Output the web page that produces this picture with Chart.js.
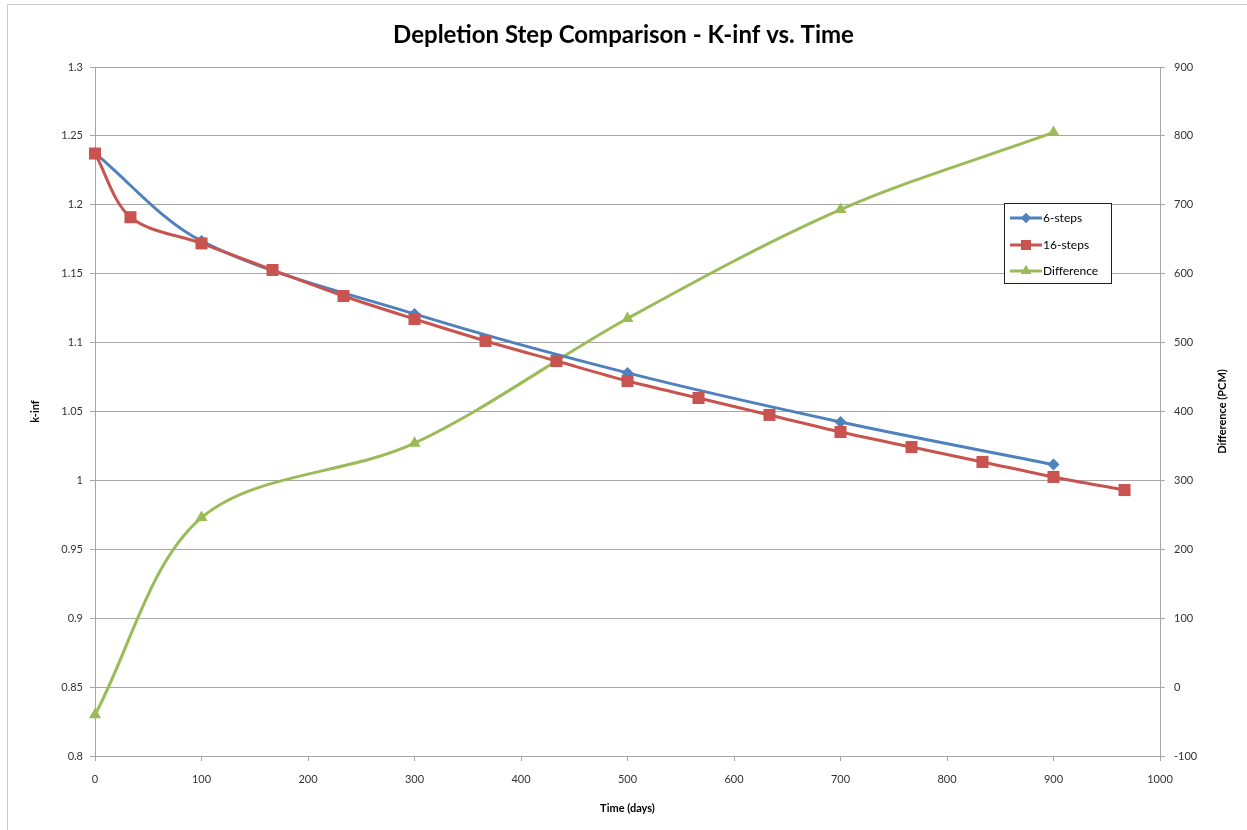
<!DOCTYPE html>
<html>
<head>
<meta charset="utf-8">
<script src="https://cdn.jsdelivr.net/npm/chart.js@4.4.0/dist/chart.umd.min.js"></script>
<style>
html,body{margin:0;padding:0;background:#fff;}
#wrap{width:1247px;height:830px;position:relative;}
</style>
</head>
<body>
<div id="wrap"><canvas id="c" width="1247" height="830"></canvas></div>
<script>
// ---- data ----
const chartTitle = 'Depletion Step Comparison - K-inf vs. Time';
const xTitle = 'Time (days)';
const yTitle = 'k-inf';
const y2Title = 'Difference (PCM)';

const days6 = [0, 100, 300, 500, 700, 900];
const kinf6 = [1.2375, 1.1737, 1.1208, 1.0780, 1.0424, 1.0115];

const days16 = [0, 33.3, 100, 166.7, 233.3, 300, 366.7, 433.3, 500, 566.7, 633.3, 700, 766.7, 833.3, 900, 966.7];
const kinf16 = [1.2372, 1.1910, 1.1720, 1.1527, 1.1338, 1.1171, 1.1012, 1.0866, 1.0721, 1.0598, 1.0475, 1.0351, 1.0242, 1.0134, 1.0025, 0.9930];

const daysDiff = [0, 100, 300, 500, 700, 900];
const diffPCM = [-40, 246, 354, 535, 693, 805];

const seriesLabels = ['6-steps', '16-steps', 'Difference'];
const xTicks = [0, 100, 200, 300, 400, 500, 600, 700, 800, 900, 1000];
const yTicks = [0.8, 0.85, 0.9, 0.95, 1, 1.05, 1.1, 1.15, 1.2, 1.25, 1.3];
const y2Ticks = [-100, 0, 100, 200, 300, 400, 500, 600, 700, 800, 900];

const toXY = (xs, ys) => xs.map((x, i) => ({x: x, y: ys[i]}));

const FONT = 'Lato, "Open Sans", "DejaVu Sans", sans-serif';
const BLUE = '#4F81BD', RED = '#C9534F', GREEN = '#9BBB59';
const GRID = '#A6A6A6';
const TXT = '#333333';

const decor = {
  id: 'decor',
  beforeDraw(chart) {
    const ctx = chart.ctx;
    ctx.save();
    ctx.fillStyle = '#fff';
    ctx.fillRect(0, 0, chart.width, chart.height);
    ctx.strokeStyle = '#C8C8C8';
    ctx.lineWidth = 1;
    ctx.beginPath();
    ctx.moveTo(7.5, 830); ctx.lineTo(7.5, 4.5); ctx.lineTo(1247, 4.5);
    ctx.stroke();
    ctx.restore();
  },
  afterDraw(chart) {
    const ctx = chart.ctx;
    const ca = chart.chartArea;
    ctx.save();
    // axis titles
    ctx.fillStyle = '#000';
    ctx.font = 'bold 11px ' + FONT;
    ctx.textAlign = 'center';
    ctx.textBaseline = 'middle';
    ctx.fillText(xTitle, (ca.left + ca.right) / 2, 808);
    ctx.save();
    ctx.translate(35, (ca.top + ca.bottom) / 2);
    ctx.rotate(-Math.PI / 2);
    ctx.fillText(yTitle, 0, 0);
    ctx.restore();
    ctx.save();
    ctx.translate(1222, (ca.top + ca.bottom) / 2);
    ctx.rotate(-Math.PI / 2);
    ctx.fillText(y2Title, 0, 0);
    ctx.restore();

    // legend
    const bx = 1004.5, by = 203.5, bw = 107, bh = 80;
    ctx.fillStyle = '#fff';
    ctx.fillRect(bx, by, bw, bh);
    ctx.strokeStyle = '#222';
    ctx.lineWidth = 1;
    ctx.strokeRect(bx, by, bw, bh);
    const rows = [218, 245, 271];
    chart.data.datasets.forEach((ds, i) => {
      const yy = rows[i];
      ctx.strokeStyle = ds.borderColor;
      ctx.lineWidth = 3;
      ctx.beginPath();
      ctx.moveTo(1010, yy); ctx.lineTo(1042, yy);
      ctx.stroke();
      ctx.fillStyle = ds.borderColor;
      Chart.helpers.drawPoint(ctx, {
        pointStyle: ds.pointStyle, radius: ds.legendRadius, borderWidth: 0, rotation: 0
      }, 1026, yy);
      ctx.fill();
      ctx.fillStyle = '#000';
      ctx.font = '12px ' + FONT;
      ctx.textAlign = 'left';
      ctx.textBaseline = 'middle';
      ctx.fillText(ds.label, 1043, yy);
    });
    ctx.restore();
  }
};

new Chart(document.getElementById('c'), {
  type: 'line',
  data: {
    datasets: [
      {
        label: seriesLabels[0], data: toXY(days6, kinf6), yAxisID: 'y',
        borderColor: BLUE, backgroundColor: BLUE, borderWidth: 3,
        pointStyle: 'rectRot', pointRadius: 6, pointBorderWidth: 0, legendRadius: 5,
        tension: 0.33, order: 1, clip: false
      },
      {
        label: seriesLabels[1], data: toXY(days16, kinf16), yAxisID: 'y',
        borderColor: RED, backgroundColor: RED, borderWidth: 3,
        pointStyle: 'rect', pointRadius: 8.5, pointBorderWidth: 0, legendRadius: 7,
        tension: 0.33, order: 0, clip: false
      },
      {
        label: seriesLabels[2], data: toXY(daysDiff, diffPCM), yAxisID: 'y2',
        borderColor: GREEN, backgroundColor: GREEN, borderWidth: 3,
        pointStyle: 'triangle', pointRadius: 7, pointBorderWidth: 0, legendRadius: 6,
        tension: 0.33, order: 2, clip: false
      }
    ]
  },
  options: {
    responsive: false,
    animation: false,
    events: [],
    layout: { padding: 0 },
    plugins: {
      legend: { display: false },
      tooltip: { enabled: false },
      title: {
        display: true, text: chartTitle, color: '#000',
        font: { family: FONT, size: 24, weight: 'bold', lineHeight: 1.2 },
        padding: { top: 21, bottom: 17.2 }
      }
    },
    scales: {
      x: {
        type: 'linear', min: 0, max: 1000,
        afterBuildTicks: s => { s.ticks = xTicks.map(v => ({value: v})); },
        afterFit: s => { s.height = 74; },
        grid: { drawOnChartArea: false, color: GRID, tickLength: 5, tickColor: GRID },
        border: { color: GRID, width: 1 },
        ticks: { color: TXT, font: { family: FONT, size: 11 }, padding: 12, maxRotation: 0,
                 callback: v => String(v) }
      },
      y: {
        type: 'linear', position: 'left', min: 0.8, max: 1.3,
        afterBuildTicks: s => { s.ticks = yTicks.map(v => ({value: v})); },
        afterFit: s => { s.width = 95; },
        grid: { color: GRID, tickLength: 5, tickColor: GRID },
        border: { color: GRID, width: 1 },
        ticks: { color: TXT, font: { family: FONT, size: 11 }, padding: 7,
                 callback: v => String(+v.toFixed(2)) }
      },
      y2: {
        type: 'linear', position: 'right', min: -100, max: 900,
        afterBuildTicks: s => { s.ticks = y2Ticks.map(v => ({value: v})); },
        afterFit: s => { s.width = 87; },
        grid: { drawOnChartArea: false, color: GRID, tickLength: 5, tickColor: GRID },
        border: { color: GRID, width: 1 },
        ticks: { color: TXT, font: { family: FONT, size: 11 }, padding: 9,
                 callback: v => String(v) }
      }
    }
  },
  plugins: [decor]
});
</script>
</body>
</html>
